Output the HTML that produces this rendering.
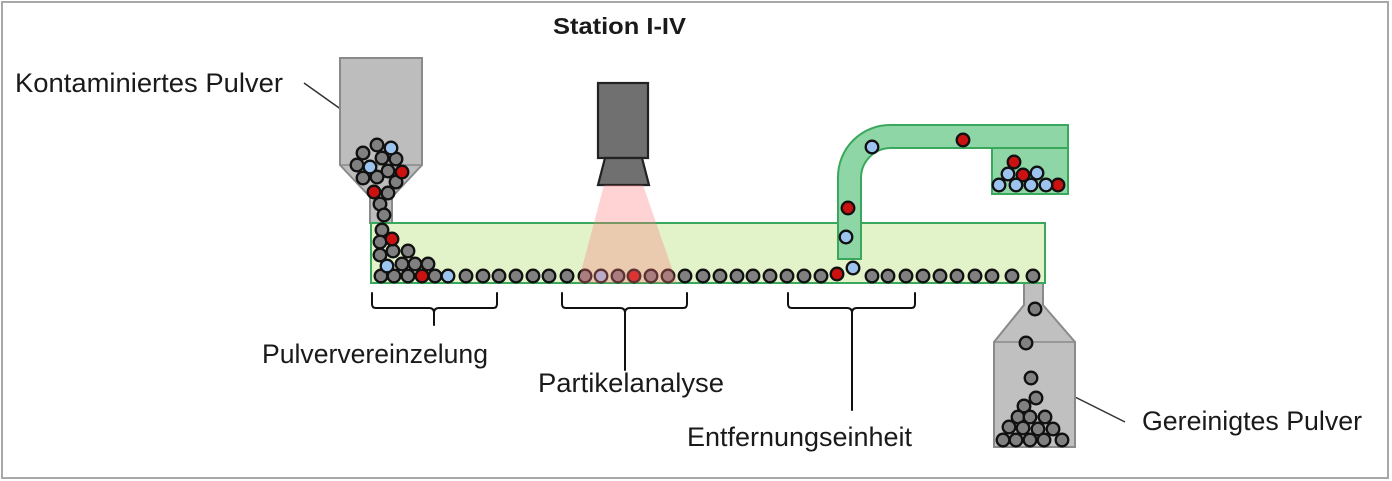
<!DOCTYPE html>
<html><head><meta charset="utf-8"><style>
html,body{margin:0;padding:0;background:#fff;}
svg{display:block;}
text{font-family:"Liberation Sans",Arial,sans-serif;fill:#1a1a1a;}
</style></head><body>
<svg width="1392" height="481" viewBox="0 0 1392 481" xmlns="http://www.w3.org/2000/svg">
<rect x="2" y="2" width="1386" height="476" fill="#fff" stroke="#a8a8a8" stroke-width="2"/>

<!-- titles / labels -->
<text x="553" y="34" font-size="23" font-weight="bold" textLength="133" lengthAdjust="spacingAndGlyphs">Station I-IV</text>
<text x="15" y="92" font-size="27" textLength="268" lengthAdjust="spacingAndGlyphs">Kontaminiertes Pulver</text>
<text x="262" y="363" font-size="27" textLength="226" lengthAdjust="spacingAndGlyphs">Pulververeinzelung</text>
<text x="538" y="392" font-size="27" textLength="186" lengthAdjust="spacingAndGlyphs">Partikelanalyse</text>
<text x="687" y="446" font-size="27" textLength="225" lengthAdjust="spacingAndGlyphs">Entfernungseinheit</text>
<text x="1142" y="430" font-size="27" textLength="220" lengthAdjust="spacingAndGlyphs">Gereinigtes Pulver</text>

<!-- leader lines -->
<line x1="304" y1="83" x2="342" y2="110" stroke="#333" stroke-width="1.5"/>
<line x1="1075" y1="397" x2="1125" y2="422" stroke="#333" stroke-width="1.5"/>

<!-- brackets -->
<g fill="none" stroke="#111" stroke-width="2" stroke-linecap="round">
<path d="M372,293 V304 Q372,308 376,308 H429 Q434,308 434,313 Q434,308 439,308 H493 Q497,308 497,304 V293"/>
<line x1="434" y1="310" x2="434" y2="325"/>
<path d="M562,293 V304 Q562,308 566,308 H620 Q625,308 625,313 Q625,308 630,308 H683 Q687,308 687,304 V293"/>
<line x1="625" y1="310" x2="625" y2="370"/>
<path d="M788,293 V304 Q788,308 792,308 H847 Q852,308 852,313 Q852,308 857,308 H911 Q915,308 915,304 V293"/>
<line x1="852" y1="310" x2="852" y2="410"/>
</g>

<!-- left hopper -->
<path d="M340,58 H422 V165 L392,197 V223 H370 V197 L340,165 Z" fill="#bdbdbd" stroke="#8a8a8a" stroke-width="2"/>
<line x1="340" y1="165" x2="422" y2="165" stroke="#8a8a8a" stroke-width="1.5"/>

<!-- right hopper -->
<path d="M1024,283 H1043 V305 L1075,342 V447 H994 V342 L1024,305 Z" fill="#c0c0c0" stroke="#8a8a8a" stroke-width="2"/>
<line x1="994" y1="342" x2="1075" y2="342" stroke="#8a8a8a" stroke-width="1.5"/>

<!-- conveyor -->
<rect x="371" y="223" width="674" height="60" fill="#e2f3c9" stroke="#3aa85c" stroke-width="2"/>

<!-- camera -->
<rect x="598" y="83" width="50" height="75" fill="#707070" stroke="#222" stroke-width="2.2"/>
<path d="M605,158 H642 L649,185 H598 Z" fill="#707070" stroke="#222" stroke-width="2.2"/>

<!-- particles -->
<g stroke="#111" stroke-width="2.3">
<g fill="#808080">
<circle cx="377" cy="145" r="6.3"/><circle cx="363" cy="153" r="6.3"/><circle cx="382" cy="158" r="6.3"/><circle cx="396" cy="159" r="6.3"/>
<circle cx="357" cy="165" r="6.3"/><circle cx="388" cy="171" r="6.3"/><circle cx="363" cy="178" r="6.3"/><circle cx="377" cy="177" r="6.3"/>
<circle cx="396" cy="182" r="6.3"/><circle cx="388" cy="193" r="6.3"/><circle cx="380" cy="204" r="6.3"/><circle cx="384" cy="215" r="6.3"/>
<circle cx="382" cy="230" r="6.3"/><circle cx="380" cy="242" r="6.3"/><circle cx="393" cy="251" r="6.3"/><circle cx="408" cy="251" r="6.3"/>
<circle cx="380" cy="255" r="6.3"/><circle cx="402" cy="264" r="6.3"/><circle cx="415" cy="264" r="6.3"/><circle cx="428" cy="264" r="6.3"/>
<circle cx="381" cy="276" r="6.3"/><circle cx="394" cy="276" r="6.3"/><circle cx="408" cy="276" r="6.3"/><circle cx="435" cy="276" r="6.3"/>
<circle cx="466" cy="276" r="6.3"/><circle cx="483" cy="276" r="6.3"/><circle cx="499" cy="276" r="6.3"/><circle cx="516" cy="276" r="6.3"/>
<circle cx="533" cy="276" r="6.3"/><circle cx="549" cy="276" r="6.3"/><circle cx="567" cy="276" r="6.3"/>
<circle cx="585" cy="276" r="6.3"/><circle cx="618" cy="276" r="6.3"/><circle cx="651" cy="276" r="6.3"/><circle cx="668" cy="276" r="6.3"/>
<circle cx="685" cy="276" r="6.3"/><circle cx="703" cy="276" r="6.3"/><circle cx="720" cy="276" r="6.3"/><circle cx="737" cy="276" r="6.3"/>
<circle cx="753" cy="276" r="6.3"/><circle cx="770" cy="276" r="6.3"/><circle cx="787" cy="276" r="6.3"/><circle cx="804" cy="276" r="6.3"/>
<circle cx="821" cy="276" r="6.3"/>
<circle cx="872" cy="276" r="6.3"/><circle cx="888" cy="276" r="6.3"/><circle cx="906" cy="276" r="6.3"/><circle cx="923" cy="276" r="6.3"/>
<circle cx="940" cy="276" r="6.3"/><circle cx="957" cy="276" r="6.3"/><circle cx="975" cy="276" r="6.3"/><circle cx="992" cy="276" r="6.3"/>
<circle cx="1012" cy="276" r="6.3"/><circle cx="1033" cy="276" r="6.3"/>
<circle cx="1035" cy="309" r="6.3"/><circle cx="1026" cy="343" r="6.3"/><circle cx="1031" cy="378" r="6.3"/><circle cx="1036" cy="398" r="6.3"/>
<circle cx="1024" cy="406" r="6.3"/><circle cx="1018" cy="417" r="6.3"/><circle cx="1030" cy="417" r="6.3"/><circle cx="1045" cy="417" r="6.3"/>
<circle cx="1009" cy="427" r="6.3"/><circle cx="1023" cy="428" r="6.3"/><circle cx="1038" cy="429" r="6.3"/><circle cx="1053" cy="429" r="6.3"/>
<circle cx="1003" cy="440" r="6.3"/><circle cx="1016" cy="440" r="6.3"/><circle cx="1030" cy="440" r="6.3"/><circle cx="1044" cy="440" r="6.3"/><circle cx="1062" cy="440" r="6.3"/>
</g>
<g fill="#cc1111">
<circle cx="402" cy="172" r="6.3"/><circle cx="374" cy="192" r="6.3"/><circle cx="392" cy="239" r="6.3"/><circle cx="422" cy="276" r="6.3"/>
<circle cx="634" cy="276" r="6.3"/><circle cx="837" cy="274" r="6.3"/>
</g>
<g fill="#9cc4ef">
<circle cx="391" cy="148" r="6.3"/><circle cx="370" cy="167" r="6.3"/><circle cx="387" cy="266" r="6.3"/><circle cx="448" cy="276" r="6.3"/>
<circle cx="601" cy="276" r="6.3"/><circle cx="853" cy="268" r="6.3"/>
</g>
</g>

<!-- light cone -->
<path d="M604,185 H643 L677,283 H578 Z" fill="#ff7a7a" fill-opacity="0.33"/>

<!-- green chute -->
<path d="M838,259 V177 A52,52 0 0 1 890,125 H1068 V148 H891 A30,30 0 0 0 861,178 V259 Z" fill="#8fd6a6" stroke="#3aa85c" stroke-width="2"/>
<rect x="992" y="148" width="76" height="46" fill="#8fd6a6" stroke="#3aa85c" stroke-width="2"/>

<g stroke="#111" stroke-width="2.3">
<g fill="#cc1111">
<circle cx="963" cy="140" r="6.3"/><circle cx="848" cy="208" r="6.3"/>
<circle cx="1014" cy="162" r="6.3"/><circle cx="1023" cy="175" r="6.3"/><circle cx="1058" cy="185" r="6.3"/>
</g>
<g fill="#9cc4ef">
<circle cx="872" cy="147" r="6.3"/><circle cx="846" cy="237" r="6.3"/>
<circle cx="1008" cy="174" r="6.3"/><circle cx="1037" cy="173" r="6.3"/>
<circle cx="999" cy="185" r="6.3"/><circle cx="1016" cy="185" r="6.3"/><circle cx="1031" cy="185" r="6.3"/><circle cx="1046" cy="185" r="6.3"/>
</g>
</g>
</svg>
</body></html>
